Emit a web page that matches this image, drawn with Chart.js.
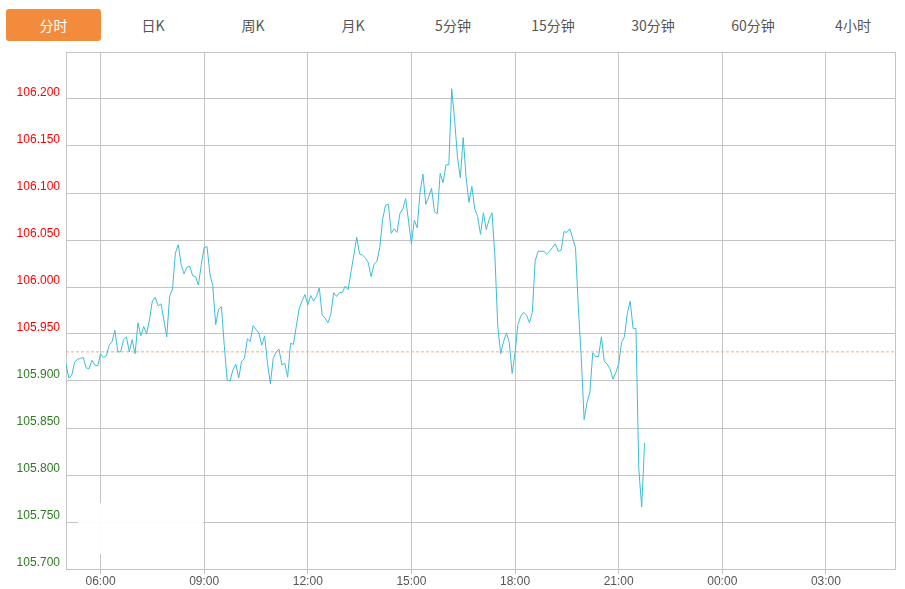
<!DOCTYPE html>
<html>
<head>
<meta charset="utf-8">
<script src="https://cdn.jsdelivr.net/npm/chart.js@4.4.1/dist/chart.umd.min.js"></script>
<style>
    html, body {
        margin: 0;
        padding: 0;
        background: #fff;
        width: 905px;
        height: 589px;
        overflow: hidden;
    }
    .tab {
        position: absolute;
        top: 9px;
        height: 32px;
        line-height: 32px;
        text-align: center;
        font-family: "Noto Sans CJK SC", sans-serif;
        font-size: 14px;
        color: #555;
    }
    .tab.active {
        background: #f38b3d;
        color: #fff;
        border-radius: 3px;
    }
    #chartBox {
        position: absolute;
        left: 0;
        top: 44px;
        width: 905px;
        height: 545px;
    }
</style>
</head>
<body>
<div id="tabs"></div>
<div id="chartBox"><canvas id="priceChart"></canvas></div>
<script>
// Tab labels
const tabLabels = ['分时', '日K', '周K', '月K', '5分钟', '15分钟', '30分钟', '60分钟', '4小时'];

// Session: 05:00 to 05:00 next day, one price every 5 minutes
const startHour = 5;
const endHour = 29;
const stepMinutes = 5;
const prevClose = 105.931;

// Tick positions (hours) and y range
const xTickHours = [6, 9, 12, 15, 18, 21, 24, 27];
const yMin = 105.70;
const yMax = 106.25;
const yStep = 0.05;

// Prices, one row per hour
const prices = [
    105.918, 105.903, 105.906, 105.920, 105.923, 105.924, 105.925, 105.914, 105.913, 105.922, 105.917, 105.916,
    105.929, 105.925, 105.927, 105.938, 105.942, 105.954, 105.931, 105.931, 105.944, 105.947, 105.931, 105.944,
    105.929, 105.962, 105.948, 105.958, 105.950, 105.965, 105.985, 105.989, 105.980, 105.982, 105.965, 105.947,
    105.990, 105.998, 106.036, 106.045, 106.024, 106.014, 106.021, 106.022, 106.012, 106.011, 106.002, 106.024,
    106.042, 106.043, 106.014, 106.001, 105.960, 105.976, 105.979, 105.937, 105.901, 105.900, 105.912, 105.918,
    105.903, 105.921, 105.924, 105.945, 105.942, 105.959, 105.955, 105.951, 105.938, 105.948, 105.919, 105.897,
    105.924, 105.931, 105.934, 105.917, 105.919, 105.904, 105.940, 105.939, 105.958, 105.977, 105.985, 105.992,
    105.981, 105.991, 105.985, 105.990, 105.999, 105.970, 105.967, 105.962, 105.971, 105.994, 105.990, 105.994,
    105.994, 106.001, 105.997, 106.016, 106.034, 106.053, 106.035, 106.034, 106.031, 106.026, 106.011, 106.024,
    106.027, 106.042, 106.072, 106.087, 106.088, 106.057, 106.062, 106.058, 106.078, 106.083, 106.094, 106.070,
    106.046, 106.071, 106.063, 106.101, 106.120, 106.088, 106.096, 106.105, 106.080, 106.078, 106.121, 106.111,
    106.130, 106.130, 106.211, 106.178, 106.138, 106.116, 106.159, 106.116, 106.090, 106.107, 106.083, 106.075,
    106.056, 106.079, 106.061, 106.072, 106.079, 106.033, 105.958, 105.929, 105.942, 105.951, 105.941, 105.908,
    105.930, 105.960, 105.969, 105.973, 105.970, 105.962, 105.973, 106.028, 106.038, 106.038, 106.038, 106.035,
    106.038, 106.042, 106.046, 106.038, 106.039, 106.059, 106.058, 106.062, 106.052, 106.042, 105.978, 105.925,
    105.859, 105.877, 105.888, 105.930, 105.926, 105.926, 105.947, 105.921, 105.918, 105.913, 105.902, 105.909,
    105.918, 105.941, 105.947, 105.972, 105.985, 105.956, 105.956, 105.806, 105.766, 105.834
];

// Build tabs
function buildTabs() {
    const holder = document.getElementById('tabs');
    tabLabels.forEach((label, i) => {
        const tab = document.createElement('div');
        tab.className = 'tab' + (i === 0 ? ' active' : '');
        tab.textContent = label;
        if (i === 0) {
            tab.style.left = '6px';
            tab.style.width = '95px';
        } else {
            tab.style.left = (3 + 100 * i) + 'px';
            tab.style.width = '100px';
        }
        holder.appendChild(tab);
    });
}

// Frame + watermark patch
const framePlugin = {
    id: 'frame',
    afterDatasetsDraw(chart) {
        const { ctx, chartArea } = chart;
        ctx.save();
        // right edge of the plot
        ctx.strokeStyle = '#c4c4c4';
        ctx.lineWidth = 1;
        ctx.beginPath();
        ctx.moveTo(Math.round(chartArea.right) + 0.5, chartArea.top);
        ctx.lineTo(Math.round(chartArea.right) + 0.5, chartArea.bottom);
        ctx.stroke();
        // faded watermark area in the lower left
        ctx.fillStyle = 'rgba(255,255,255,0.92)';
        ctx.fillRect(78, 503 - 44, 125, 51);
        ctx.restore();
    }
};

function initializePriceChart() {
    const points = prices.map((p, i) => ({ x: startHour + i * stepMinutes / 60, y: p }));
    const baseLine = [{ x: startHour, y: prevClose }, { x: endHour, y: prevClose }];
    const font = { family: "'Liberation Sans', Arial, sans-serif", size: 12 };

    new Chart(document.getElementById('priceChart'), {
        type: 'line',
        data: {
            datasets: [
                {
                    data: points,
                    borderColor: '#3dbdd6',
                    borderWidth: 1,
                    pointRadius: 0,
                    tension: 0,
                    fill: false
                },
                {
                    data: baseLine,
                    borderColor: '#f2ad82',
                    borderWidth: 1,
                    borderDash: [3, 2],
                    pointRadius: 0,
                    fill: false
                }
            ]
        },
        options: {
            responsive: true,
            maintainAspectRatio: false,
            animation: false,
            layout: { padding: { top: 8, right: 10, left: 0, bottom: 0 } },
            plugins: {
                legend: { display: false },
                tooltip: { enabled: false }
            },
            scales: {
                x: {
                    type: 'linear',
                    min: startHour,
                    max: endHour,
                    afterBuildTicks(scale) {
                        scale.ticks = xTickHours.map(v => ({ value: v }));
                    },
                    afterFit(scale) {
                        scale.height = 20;
                        scale.paddingLeft = 0;
                        scale.paddingRight = 0;
                    },
                    grid: {
                        color: '#c4c4c4',
                        tickLength: 5
                    },
                    border: { color: '#b9c4d6' },
                    ticks: {
                        padding: 0,
                        maxRotation: 0,
                        color: '#555',
                        font: font,
                        callback: v => String(v % 24).padStart(2, '0') + ':00'
                    }
                },
                y: {
                    min: yMin,
                    max: yMax,
                    afterFit(scale) {
                        scale.width = 66;
                        scale.paddingTop = 0;
                        scale.paddingBottom = 0;
                    },
                    grid: {
                        color: '#c4c4c4',
                        tickLength: 0
                    },
                    border: { color: '#c4c4c4' },
                    ticks: {
                        stepSize: yStep,
                        padding: 6,
                        labelOffset: -6,
                        font: font,
                        color: ctx => ctx.tick.value > prevClose ? '#ff0000' : '#2f7a22',
                        callback: v => (Math.abs(v - yMax) < 1e-6 ? '' : v.toFixed(3))
                    }
                }
            }
        },
        plugins: [framePlugin]
    });
}

document.addEventListener('DOMContentLoaded', function() {
    buildTabs();
    initializePriceChart();
});
</script>
</body>
</html>
